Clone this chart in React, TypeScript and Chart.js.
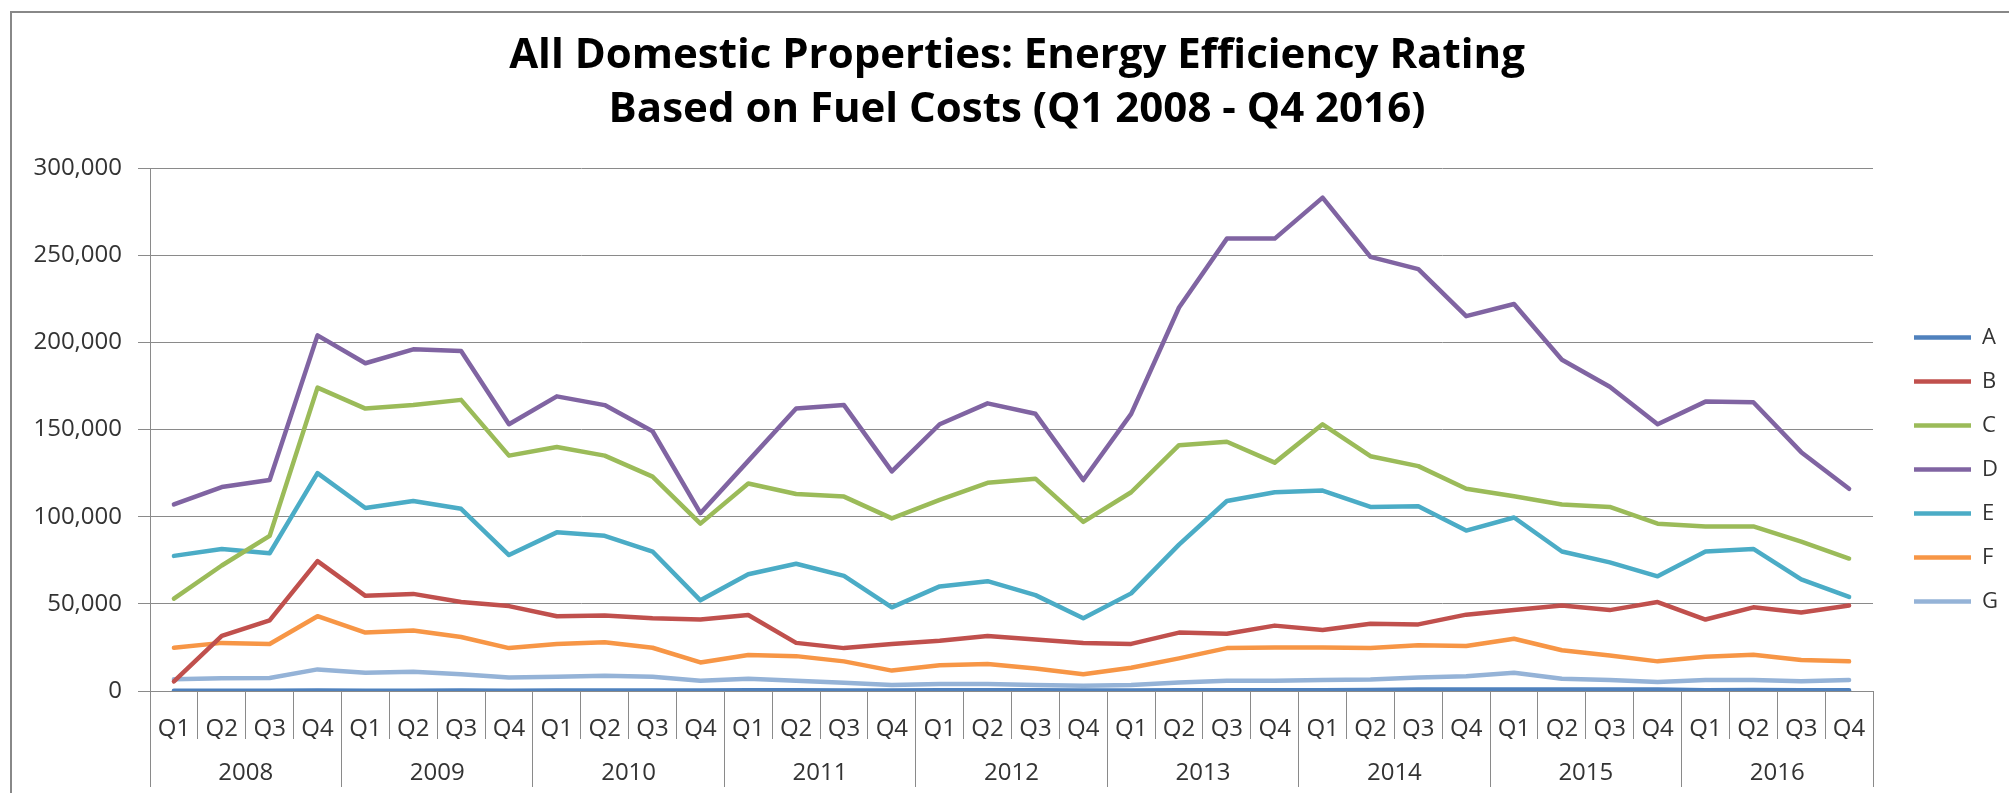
import React, { useEffect, useRef } from 'react';
import { Chart, registerables } from 'chart.js';

Chart.register(...registerables);

const quarterLabels = [
  'Q1', 'Q2', 'Q3', 'Q4', 'Q1', 'Q2', 'Q3', 'Q4', 'Q1', 'Q2', 'Q3', 'Q4',
  'Q1', 'Q2', 'Q3', 'Q4', 'Q1', 'Q2', 'Q3', 'Q4', 'Q1', 'Q2', 'Q3', 'Q4',
  'Q1', 'Q2', 'Q3', 'Q4', 'Q1', 'Q2', 'Q3', 'Q4', 'Q1', 'Q2', 'Q3', 'Q4',
];
const yearLabels = ['2008', '2009', '2010', '2011', '2012', '2013', '2014', '2015', '2016'];

const seriesA = [200, 150, 150, 300, 200, 200, 300, 150, 300, 300, 300, 300, 500, 400, 300, 300, 400, 400, 400, 300, 300, 400, 500, 500, 500, 600, 800, 900, 900, 900, 900, 900, 400, 600, 500, 400];
const seriesB = [5500, 31600, 40500, 74500, 54600, 55700, 51000, 48700, 42900, 43300, 41700, 41000, 43600, 27600, 24600, 27000, 28800, 31600, 29500, 27600, 27000, 33500, 32800, 37500, 35000, 38600, 38200, 43800, 46400, 49000, 46400, 51000, 41000, 48000, 45000, 49000];
const seriesC = [53000, 72000, 89000, 174000, 162000, 164000, 167000, 135000, 140000, 135000, 123000, 96000, 119000, 113000, 111500, 99000, 109600, 119400, 121800, 97000, 114000, 141000, 143000, 131000, 153000, 134700, 129000, 116000, 111700, 107000, 105600, 96000, 94400, 94400, 85700, 76000];
const seriesD = [107000, 117000, 121000, 204000, 188000, 196000, 195000, 153000, 169000, 164000, 149000, 102000, 132000, 162000, 164000, 126000, 153000, 165000, 159000, 121000, 159000, 220000, 259500, 259500, 283000, 249000, 242000, 215000, 222000, 190000, 174500, 153000, 166000, 165600, 137000, 116000];
const seriesE = [77500, 81500, 79000, 125000, 105000, 109000, 104500, 78000, 91000, 89000, 80000, 52000, 67000, 73000, 66000, 48000, 60000, 63000, 55000, 41700, 56000, 84000, 109000, 114000, 115000, 105600, 106000, 92000, 99500, 80000, 73800, 65800, 80000, 81500, 64000, 54000];
const seriesF = [24800, 27600, 27000, 42900, 33500, 34700, 31000, 24600, 27000, 28000, 24800, 16400, 20600, 20000, 17000, 11700, 14800, 15500, 12900, 9600, 13300, 18700, 24600, 25000, 25000, 24600, 26200, 25800, 30000, 23400, 20400, 17000, 19700, 20800, 17800, 17000];
const seriesG = [6800, 7300, 7500, 12400, 10500, 11000, 9600, 7700, 8200, 8700, 8200, 5900, 7000, 5900, 4700, 3500, 4000, 4000, 3500, 3000, 3500, 4900, 5900, 5900, 6300, 6600, 7700, 8400, 10500, 7000, 6300, 5200, 6300, 6300, 5600, 6300];

const seriesNames = ['A', 'B', 'C', 'D', 'E', 'F', 'G'];
const seriesColors = ['#4F81BD', '#C0504D', '#9BBB59', '#8064A2', '#4BACC6', '#F79646', '#95B3D7'];
const seriesValues = [seriesA, seriesB, seriesC, seriesD, seriesE, seriesF, seriesG];

const titleLines = ['All Domestic Properties: Energy Efficiency Rating', 'Based on Fuel Costs (Q1 2008 - Q4 2016)'];

const CANVAS_W = 1992;
const CANVAS_H = 913;
const GRID = '#8a8a8a';
const TEXT = '#333333';

export default function App() {
  const ref = useRef<HTMLCanvasElement | null>(null);

  useEffect(() => {
    if (!ref.current) return;
    Chart.defaults.font.family = "'Open Sans', sans-serif";
    const datasets = seriesNames.map((name, i) => ({
      label: name,
      data: seriesValues[i],
      borderColor: seriesColors[i],
      backgroundColor: seriesColors[i],
      pointBorderColor: seriesColors[i],
      pointBackgroundColor: seriesColors[i],
      pointBorderWidth: 4.5,
      borderWidth: 4.5,
      pointRadius: 0,
      pointHoverRadius: 0,
      tension: 0,
      borderJoinStyle: 'round' as const,
      borderCapStyle: 'round' as const,
      xAxisID: 'x',
      yAxisID: 'y',
    }));

    const chart = new Chart(ref.current, {
      type: 'line',
      data: { labels: quarterLabels, datasets },
      options: {
        responsive: false,
        animation: false,
        layout: { padding: { left: 18, top: 0, right: 0, bottom: 0 } },
        plugins: {
          tooltip: { enabled: false },
          title: {
            display: true,
            text: titleLines,
            color: '#000000',
            font: { family: "'Open Sans', sans-serif", size: 42, weight: 'bold', lineHeight: '54px' },
            padding: { top: 16.5, bottom: 30.5 },
          },
          legend: {
            position: 'right',
            maxWidth: 112,
            labels: {
              usePointStyle: true,
              pointStyle: 'line',
              pointStyleWidth: 57,
              padding: 22,
              color: TEXT,
              font: { size: 22 },
            },
          },
        },
        scales: {
          x: {
            type: 'category',
            position: 'bottom',
            offset: true,
            grid: {
              display: true,
              offset: true,
              drawOnChartArea: false,
              drawTicks: true,
              tickLength: 48,
              color: GRID,
              lineWidth: 1,
            },
            border: { display: true, color: GRID, width: 1 },
            ticks: {
              autoSkip: false,
              maxRotation: 0,
              minRotation: 0,
              padding: -24.4,
              color: TEXT,
              font: { size: 24 },
            },
            afterFit: (s: any) => { s.height = 48; },
          },
          x2: {
            type: 'category',
            position: 'bottom',
            labels: yearLabels,
            offset: true,
            grid: {
              display: true,
              offset: true,
              drawOnChartArea: false,
              drawTicks: true,
              tickLength: 48,
              color: GRID,
              lineWidth: 1,
            },
            border: { display: false },
            ticks: {
              autoSkip: false,
              maxRotation: 0,
              minRotation: 0,
              padding: -28.4,
              color: TEXT,
              font: { size: 24 },
            },
            afterFit: (s: any) => { s.height = CANVAS_H - 678 - 48; },
          },
          y: {
            type: 'linear',
            position: 'left',
            min: 0,
            max: 300000,
            grid: {
              color: GRID,
              lineWidth: 1,
              drawTicks: true,
              tickLength: 12,
            },
            border: { display: true, color: GRID, width: 1 },
            ticks: {
              stepSize: 50000,
              padding: 16,
              color: TEXT,
              font: { size: 24 },
              callback: (v: any) => Number(v).toLocaleString('en-US'),
            },
            afterFit: (s: any) => { s.width = 120; },
          },
          yR: {
            type: 'linear',
            position: 'right',
            display: true,
            grid: { display: false },
            border: { display: false },
            ticks: { display: false },
            afterFit: (s: any) => { s.width = 19; },
          },
        },
      },
    });
    return () => chart.destroy();
  }, []);

  return (
    <div
      style={{
        position: 'absolute',
        left: 10,
        top: 11,
        width: 1997,
        height: 780,
        overflow: 'hidden',
        borderTop: '2px solid #888888',
        borderLeft: '2px solid #888888',
        background: '#ffffff',
      }}
    >
      <canvas ref={ref} width={CANVAS_W} height={CANVAS_H} style={{ display: 'block' }} />
    </div>
  );
}
